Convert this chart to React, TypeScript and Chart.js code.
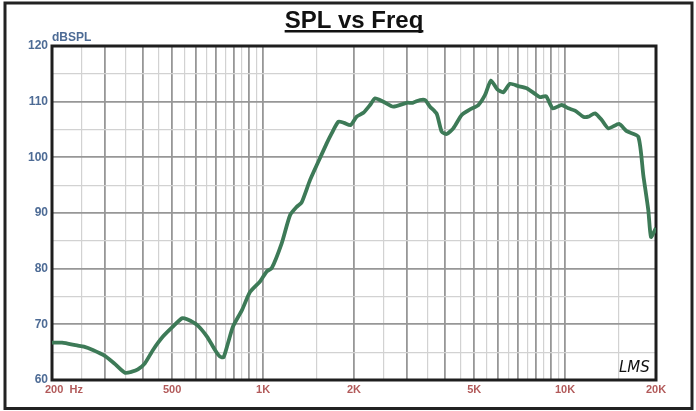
import { useEffect, useRef } from 'react';
import { Chart, registerables } from 'chart.js';

Chart.register(...registerables);

// Frequency (Hz) of each traced point
const freqs = [
  200, 216, 242, 255, 273, 300, 323, 349, 368, 385,
  406, 432, 466, 503, 539, 560, 604, 652, 693, 720,
  740, 765, 795, 852, 905, 977, 1028, 1068, 1153, 1228,
  1292, 1342, 1430, 1523, 1624, 1687, 1774, 1853, 1950, 2041,
  2148, 2260, 2348, 2501, 2698, 2989, 3130, 3308, 3437, 3570,
  3758, 3904, 4055, 4264, 4546, 4844, 5161, 5432, 5684, 5965,
  6245, 6572, 6998, 7464, 7950, 8260, 8646, 9100, 9746, 10250,
  10786, 11490, 11936, 12562, 13220, 13904, 15088, 15996, 17476, 18156,
  18860, 19250, 20000,
];

// SPL (dB) at each frequency
const spl = [
  66.7, 66.7, 66.2, 66.0, 65.4, 64.3, 62.9, 61.3, 61.5, 61.9,
  63.0, 65.4, 67.8, 69.6, 71.1, 70.9, 69.9, 67.8, 65.4, 64.2,
  64.1, 66.6, 69.6, 72.6, 75.8, 77.7, 79.5, 80.1, 84.6, 89.6,
  91.1, 91.9, 95.9, 99.2, 102.5, 104.3, 106.4, 106.2, 105.8, 107.3,
  108.0, 109.4, 110.6, 110.0, 109.1, 109.8, 109.8, 110.3, 110.3, 109.1,
  107.8, 104.6, 104.2, 105.2, 107.6, 108.6, 109.4, 111.2, 113.8, 112.2,
  111.7, 113.2, 112.8, 112.4, 111.4, 110.8, 111.0, 108.8, 109.4, 108.8,
  108.4, 107.3, 107.3, 107.9, 106.7, 105.2, 106.0, 104.7, 103.7, 96.8,
  90.5, 85.7, 87.3,
];

// X tick labels
const xLabelValues = [200, 500, 1000, 2000, 5000, 10000, 20000];
const xLabelTexts = ['200  Hz', '500', '1K', '2K', '5K', '10K', '20K'];

// Y axis
const yMin = 60;
const yMax = 120;
const yStep = 5;
const yLabelStep = 10;

const titleText = 'SPL vs Freq';
const yUnitText = 'dBSPL';
const logoText = 'LMS';

// grid positions: every half-multiple within each decade
const gridMultipliers = [1, 1.5, 2, 2.5, 3, 3.5, 4, 4.5, 5, 5.5, 6, 6.5, 7, 7.5, 8, 8.5, 9, 9.5];
const gridDecades = [100, 1000, 10000];

const FONT = '"Liberation Sans", Arial, sans-serif';
const DARK_GRID = '#979797';
const LIGHT_GRID = '#d2d2d2';
const Y_LABEL_COLOR = '#4d6b95';
const X_LABEL_COLOR = '#b25a5a';

function isMajorFreq(v: number) {
  const d = Math.pow(10, Math.floor(Math.log10(v) + 1e-9));
  const m = v / d;
  return Math.abs(m - Math.round(m)) < 1e-6;
}

const decorPlugin = {
  id: 'decor',
  beforeDatasetsDraw(chart: any) {
    const { ctx, chartArea: a } = chart;
    ctx.save();
    ctx.strokeStyle = '#1e1e1e';
    ctx.lineWidth = 3;
    ctx.strokeRect(a.left, a.top, a.right - a.left, a.bottom - a.top);
    ctx.restore();
  },
  afterDraw(chart: any) {
    const { ctx, chartArea: a, scales } = chart;
    ctx.save();
    // outer frame
    ctx.strokeStyle = '#222';
    ctx.lineWidth = 3;
    ctx.strokeRect(5, 3, 687, 405.5);

    // title with underline
    const cx = (a.left + a.right) / 2;
    ctx.font = `bold 24px ${FONT}`;
    ctx.fillStyle = '#111';
    ctx.textAlign = 'center';
    ctx.textBaseline = 'alphabetic';
    ctx.fillText(titleText, cx, 28);
    const w = ctx.measureText(titleText).width;
    ctx.fillRect(cx - w / 2, 30, w, 2.5);

    // y unit
    ctx.font = `bold 12px ${FONT}`;
    ctx.fillStyle = Y_LABEL_COLOR;
    ctx.textAlign = 'left';
    ctx.fillText(yUnitText, a.left, 41);

    // first x label (left-aligned at axis start)
    const x0 = scales.x.getPixelForValue(xLabelValues[0]);
    ctx.font = `bold 11px ${FONT}`;
    ctx.fillStyle = X_LABEL_COLOR;
    ctx.textAlign = 'left';
    ctx.textBaseline = 'middle';
    ctx.fillText(xLabelTexts[0], x0 - 7, a.bottom + 3 + 6.6);

    // logo
    ctx.font = `italic 15px "DejaVu Sans", sans-serif`;
    ctx.fillStyle = '#111';
    ctx.textAlign = 'left';
    ctx.textBaseline = 'alphabetic';
    ctx.fillText(logoText, a.right - 37, a.bottom - 8);
    ctx.restore();
  },
};

export default function App() {
  const ref = useRef<HTMLCanvasElement>(null);

  useEffect(() => {
    const gridFreqs: number[] = [];
    for (const d of gridDecades) {
      for (const m of gridMultipliers) {
        const v = m * d;
        if (v >= xLabelValues[0] && v <= xLabelValues[xLabelValues.length - 1]) gridFreqs.push(v);
      }
    }

    const chart = new Chart(ref.current as HTMLCanvasElement, {
      type: 'line',
      data: {
        datasets: [
          {
            data: freqs.map((f, i) => ({ x: f, y: spl[i] })),
            borderColor: '#3d7a57',
            borderWidth: 3.8,
            pointRadius: 0,
            tension: 0.2,
            fill: false,
          },
        ],
      },
      options: {
        responsive: false,
        animation: false,
        devicePixelRatio: 1,
        layout: { padding: { top: 46, right: 40, bottom: 0, left: 0 } },
        plugins: {
          legend: { display: false },
          tooltip: { enabled: false },
          title: { display: false },
        },
        scales: {
          x: {
            type: 'logarithmic',
            min: xLabelValues[0],
            max: xLabelValues[xLabelValues.length - 1],
            afterBuildTicks: (s: any) => {
              s.ticks = gridFreqs.map((v) => ({ value: v }));
            },
            afterFit: (s: any) => {
              s.height = 31;
            },
            border: { display: false },
            grid: {
              drawTicks: false,
              color: (c: any) => (isMajorFreq(c.tick.value) ? DARK_GRID : LIGHT_GRID),
              lineWidth: (c: any) => (isMajorFreq(c.tick.value) ? 1.8 : 1.2),
            },
            ticks: {
              autoSkip: false,
              maxRotation: 0,
              minRotation: 0,
              padding: 3,
              color: X_LABEL_COLOR,
              font: { family: FONT, size: 11, weight: 'bold' },
              callback: (v: any) => {
                const i = xLabelValues.indexOf(Number(v));
                return i > 0 ? xLabelTexts[i] : '';
              },
            },
          },
          y: {
            min: yMin,
            max: yMax,
            afterFit: (s: any) => {
              s.width = 52;
            },
            border: { display: false },
            grid: {
              drawTicks: false,
              color: (c: any) => (c.tick.value % yLabelStep === 0 ? DARK_GRID : LIGHT_GRID),
              lineWidth: (c: any) => (c.tick.value % yLabelStep === 0 ? 1.8 : 1.2),
            },
            ticks: {
              stepSize: yStep,
              padding: 4,
              color: Y_LABEL_COLOR,
              font: { family: FONT, size: 12, weight: 'bold' },
              callback: (v: any) => (Number(v) % yLabelStep === 0 ? String(v) : ''),
            },
          },
        },
      },
      plugins: [decorPlugin],
    } as any);

    return () => chart.destroy();
  }, []);

  return (
    <div style={{ position: 'absolute', left: 0, top: 0, width: 696, height: 411, background: '#fff' }}>
      <canvas ref={ref} width={696} height={411} style={{ display: 'block', width: 696, height: 411 }} />
    </div>
  );
}
